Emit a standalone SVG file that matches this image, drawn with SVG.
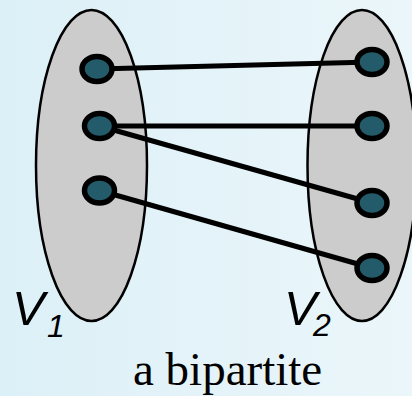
<svg xmlns="http://www.w3.org/2000/svg" width="412" height="396" viewBox="0 0 412 396">
<defs>
<linearGradient id="bg" x1="0" y1="0" x2="1" y2="0">
<stop offset="0" stop-color="#dcf0f7"/>
<stop offset="1" stop-color="#ebf6fa"/>
</linearGradient>
</defs>
<style>
.set{fill:#cccccc;stroke:#000;stroke-width:2.5}
.v{fill:#245b6b;stroke:#000;stroke-width:5.5}
.e{stroke:#000;stroke-width:5;fill:none}
.lab{font-family:"Liberation Sans",Arial,sans-serif;font-style:italic;fill:#000}
.cap{font-family:"Liberation Serif","Times New Roman",serif;font-size:47px;fill:#000}
</style>
<rect width="412" height="396" fill="url(#bg)"/>
<g id="V1set"><ellipse class="set" cx="91.5" cy="165.5" rx="55.5" ry="155.5"/></g>
<g id="V2set"><ellipse class="set" cx="362" cy="165.5" rx="54.5" ry="155.5"/></g>
<g id="edges">
<line class="e" x1="97" y1="69" x2="372" y2="62"/>
<line class="e" x1="99.5" y1="126" x2="372" y2="126"/>
<line class="e" x1="99.5" y1="126" x2="372" y2="203"/>
<line class="e" x1="99.5" y1="190.5" x2="372" y2="268"/>
</g>
<g id="a1"><ellipse class="v" cx="97" cy="69" rx="15" ry="12.5"/></g>
<g id="a2"><ellipse class="v" cx="99.5" cy="126" rx="15" ry="12.5"/></g>
<g id="a3"><ellipse class="v" cx="99.5" cy="190.5" rx="15" ry="12.5"/></g>
<g id="b1"><ellipse class="v" cx="372" cy="62" rx="15" ry="12.5"/></g>
<g id="b2"><ellipse class="v" cx="372" cy="126" rx="15" ry="12.5"/></g>
<g id="b3"><ellipse class="v" cx="372" cy="203" rx="15" ry="12.5"/></g>
<g id="b4"><ellipse class="v" cx="372" cy="268" rx="15" ry="12.5"/></g>
<g id="labels">
<text class="lab" x="12" y="325" font-size="49">V<tspan font-size="32" x="47" y="337">1</tspan></text>
<text class="lab" x="284" y="325" font-size="49">V<tspan font-size="32" x="313" y="336">2</tspan></text>
<text class="cap" x="133" y="385">a bipartite</text>
</g>
</svg>
